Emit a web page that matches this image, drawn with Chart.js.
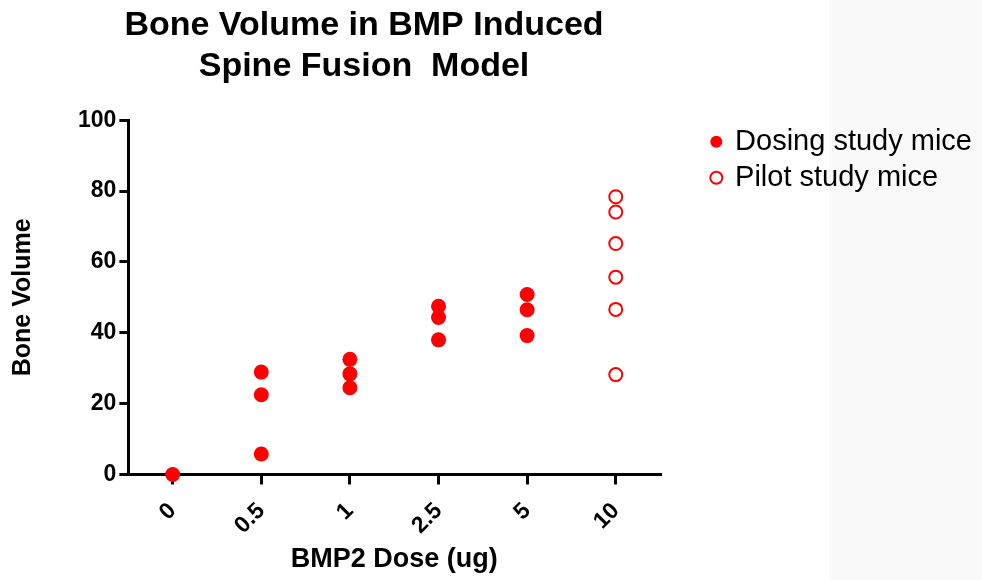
<!DOCTYPE html>
<html>
<head>
<meta charset="utf-8">
<script src="https://cdn.jsdelivr.net/npm/chart.js@4"></script>
<style>
html,body{margin:0;padding:0;background:#fff;}
#wrap{position:relative;width:982px;height:580px;background:#fff;overflow:hidden;}
#panel{position:absolute;left:829px;top:0;width:153px;height:580px;background:#f9f9f9;}
#c{position:absolute;left:0;top:0;}
</style>
</head>
<body>
<div id="wrap"><div id="panel"></div><canvas id="c" width="982" height="580"></canvas></div>
<script>
// ---- data ----
const categories = ['0', '0.5', '1', '2.5', '5', '10'];
const dosingDose = ['0', '0.5', '0.5', '0.5', '1', '1', '1', '2.5', '2.5', '2.5', '5', '5', '5'];
const dosingVolume = [0, 28.9, 22.5, 5.8, 32.5, 28.4, 24.5, 47.5, 44.3, 38.0, 50.8, 46.5, 39.2];
const pilotDose = ['10', '10', '10', '10', '10', '10'];
const pilotVolume = [78.4, 74.1, 65.2, 55.7, 46.6, 28.2];
const yTicks = [0, 20, 40, 60, 80, 100];
const seriesNames = ['Dosing study mice', 'Pilot study mice'];
const chartTitle = ['Bone Volume in BMP Induced', 'Spine Fusion  Model'];
const xTitle = 'BMP2 Dose (ug)';
const yTitle = 'Bone Volume';

const FAMILY = "'Liberation Sans', Arial, Helvetica, sans-serif";
const RED = '#ff0000';

const toPoints = (xs, ys) => xs.map((x, i) => ({ x: x, y: ys[i] }));

const titleShift = {
  id: 'titleShift',
  afterLayout(chart) {
    const t = chart.titleBlock;
    if (t) { t.left = 0; t.right = 728; t.width = 728; }
  }
};

new Chart(document.getElementById('c'), {
  type: 'scatter',
  data: {
    labels: categories,
    datasets: [
      {
        label: seriesNames[0],
        data: toPoints(dosingDose, dosingVolume),
        pointStyle: 'circle',
        pointRadius: 7.5,
        pointHoverRadius: 7.5,
        backgroundColor: RED,
        borderColor: RED,
        borderWidth: 0,
        clip: false
      },
      {
        label: seriesNames[1],
        data: toPoints(pilotDose, pilotVolume),
        pointStyle: 'circle',
        pointRadius: 6.5,
        pointHoverRadius: 6.5,
        backgroundColor: '#ffffff',
        borderColor: RED,
        borderWidth: 2,
        clip: false
      }
    ]
  },
  options: {
    responsive: false,
    animation: false,
    devicePixelRatio: 1,
    layout: { padding: { left: 8, right: 0, top: 0, bottom: 4 } },
    plugins: {
      title: {
        display: true,
        text: chartTitle,
        color: '#000',
        font: { family: FAMILY, size: 34, weight: 'bold', lineHeight: 1.18 },
        padding: { top: 6, bottom: 34 }
      },
      legend: {
        position: 'right',
        align: 'start',
        fullSize: false,
        maxWidth: 400,
        labels: {
          usePointStyle: true,
          boxWidth: 8.5,
          boxHeight: 8.5,
          padding: 7,
          color: '#000',
          font: { family: FAMILY, size: 29 }
        }
      },
      tooltip: { enabled: false }
    },
    scales: {
      x: {
        type: 'category',
        labels: categories,
        offset: true,
        grid: { display: true, drawOnChartArea: false, drawTicks: true, tickLength: 10, color: '#000', lineWidth: 3 },
        border: { display: true, color: '#000', width: 3 },
        ticks: {
          autoSkip: false,
          minRotation: 45,
          maxRotation: 45,
          padding: 13,
          color: '#000',
          font: { family: FAMILY, size: 23, weight: 'bold' }
        },
        title: {
          display: true,
          text: xTitle,
          color: '#000',
          font: { family: FAMILY, size: 27, weight: 'bold' },
          padding: { top: -9, bottom: 0 }
        }
      },
      y: {
        min: 0,
        max: 100,
        afterBuildTicks: (s) => { s.ticks = yTicks.map(v => ({ value: v })); },
        grid: { display: true, drawOnChartArea: false, drawTicks: true, tickLength: 9, color: '#000', lineWidth: 3 },
        border: { display: true, color: '#000', width: 3 },
        ticks: {
          padding: 3,
          color: '#000',
          font: { family: FAMILY, size: 23, weight: 'bold' }
        },
        title: {
          display: true,
          text: yTitle,
          color: '#000',
          font: { family: FAMILY, size: 25, weight: 'bold' },
          padding: { top: 0, bottom: 37 }
        }
      },
      gap: {
        position: 'right',
        display: true,
        grid: { display: false },
        border: { display: false },
        ticks: { display: false },
        afterFit: (s) => { s.width = 45; }
      }
    }
  },
  plugins: [titleShift]
});
</script>
</body>
</html>
